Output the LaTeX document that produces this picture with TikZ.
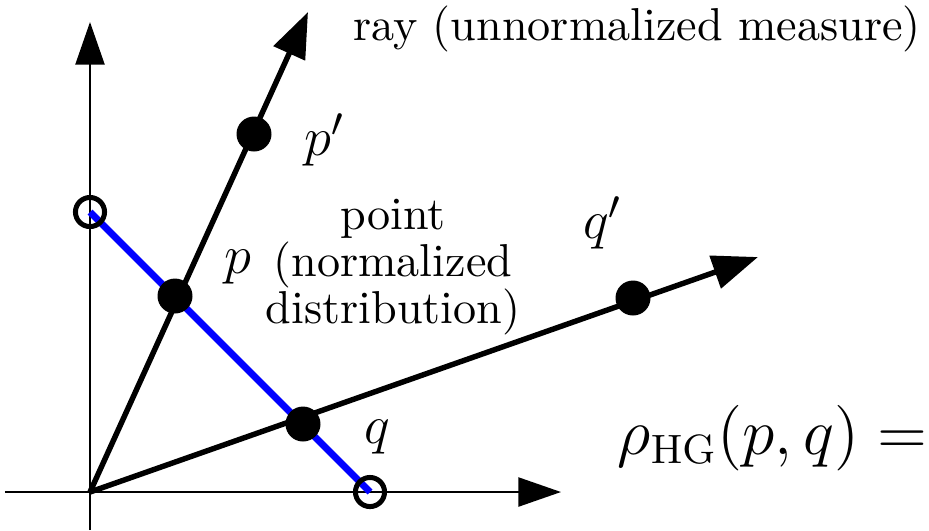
\documentclass[tikz,border=0pt]{standalone}
\usepackage{amsmath}
\usetikzlibrary{arrows.meta}
\begin{document}
\begin{tikzpicture}[
  x=0.22pt,y=-0.22pt,
  axis/.style={line width=0.5pt,-{Triangle[length=9.4pt,width=6.4pt]}},
  ray/.style={line width=1.2pt,-{Triangle[length=10pt,width=7.4pt]}},
  simplex/.style={blue,line width=1.5pt},
  dot/.style={circle,fill=black,inner sep=0pt,outer sep=0pt,minimum size=7.7pt},
  hole/.style={circle,draw=black,line width=1.1pt,inner sep=0pt,minimum size=6.4pt},
  lbl/.style={font=\fontsize{12.5}{14}\selectfont},
  txt/.style={font=\fontsize{10.15}{10.3}\selectfont}
]
\useasboundingbox (0,0) rectangle (929,530);

% Axes
\coordinate (O) at (90,492);
\coordinate (ybot) at (90,530);
\coordinate (ytop) at (90,22);
\coordinate (xleft) at (5,492);
\coordinate (xright) at (561,492);
\draw[axis] (ybot) -- (ytop);
\draw[axis] (xleft) -- (xright);

% Simplex of normalized distributions
\coordinate (e2) at (90,212);
\coordinate (e1) at (370,492);
\draw[simplex] (e2) -- (e1);
\node[hole] (h2) at (e2) {};
\node[hole] (h1) at (e1) {};

% Rays through the origin
\coordinate (ptip) at (308,12);
\coordinate (qtip) at (758,257);
\draw[ray] (O) -- (ptip);
\draw[ray] (O) -- (qtip);

% Points on the rays
\node[dot] (p) at (175,296) {};
\node[dot] (pp) at (254,134) {};
\node[dot] (q) at (303,424) {};
\node[dot] (qq) at (633,298) {};

% Labels
\node[lbl] at (238,267) {$p$};
\node[lbl] at (325,140) {$p'$};
\node[lbl] at (377,437) {$q$};
\node[lbl] at (603,223) {$q'$};
\node[txt,align=center] at (393,267) {point\\(normalized\\distribution)};
\node[txt] at (637,29) {ray (unnormalized measure)};
\node[font=\fontsize{13.35}{15}\selectfont,anchor=base west,inner sep=0pt] at (617,454) {$\rho_{\mathrm{HG}}(p,q) =$};

\end{tikzpicture}
\end{document}
